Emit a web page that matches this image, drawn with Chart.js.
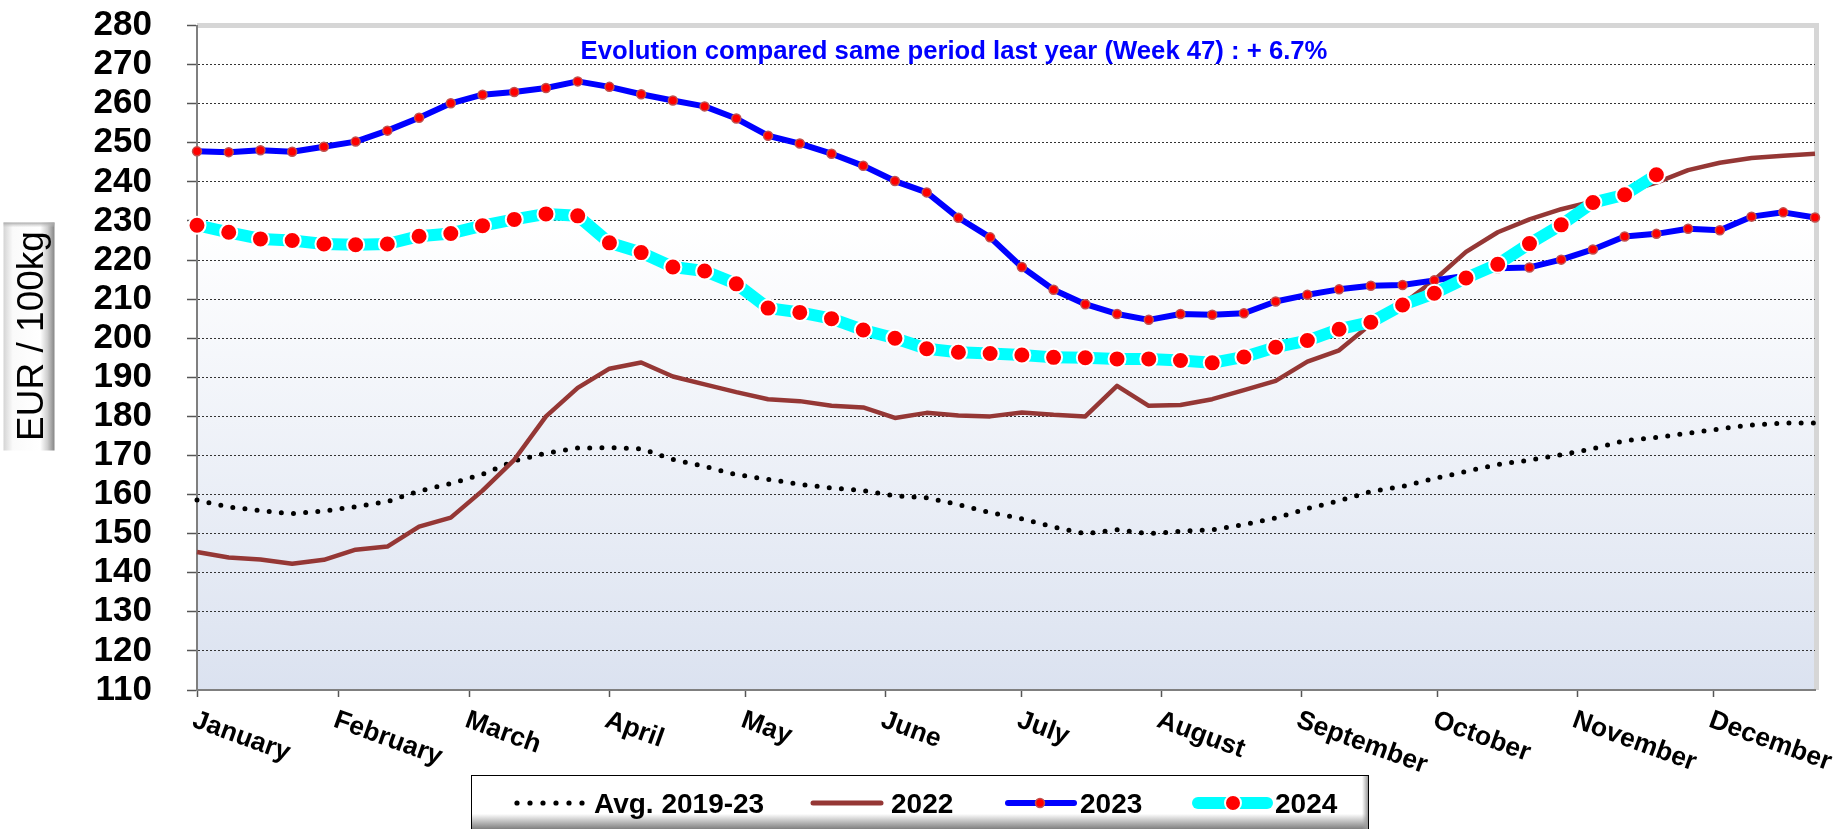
<!DOCTYPE html>
<html>
<head>
<meta charset="utf-8">
<script src="https://cdn.jsdelivr.net/npm/chart.js@4.4.1/dist/chart.umd.min.js"></script>
<style>
  html, body { margin: 0; padding: 0; background: #ffffff; }
  #wrap { width: 1846px; height: 829px; position: relative; }
</style>
</head>
<body>
<div id="wrap"><canvas id="c" width="1846" height="829"></canvas></div>
<script>
// ---------- DATA ----------
const weeks = Array.from({length: 52}, (_, i) => i + 1);
const monthLabels = ['January','February','March','April','May','June','July','August','September','October','November','December'];
const monthTickWeeks = [1, 5.45, 9.6, 14, 18.3, 22.7, 27, 31.4, 35.8, 40.1, 44.5, 48.8];
const yTickMin = 110;
const yTickMax = 280;
const yTickStep = 10;

const avg2019_23 = [158.6,156.8,155.9,155.1,155.8,156.9,158.2,160.9,162.8,165.2,168.6,170.6,171.9,
                    172.0,171.7,169.0,167.2,165.1,163.9,162.6,161.7,161.0,159.7,159.2,157.4,155.4,
                    153.8,151.7,150.0,151.0,150.0,150.6,151.0,152.3,154.0,156.4,158.4,160.8,162.1,
                    164.1,165.9,167.7,168.8,170.2,171.7,173.8,174.6,175.7,176.8,177.8,178.3,178.3];
const y2022 = [145.3,143.9,143.4,142.3,143.3,145.9,146.7,151.8,154.1,161.0,168.9,180.0,187.3,
               192.2,193.8,190.2,188.2,186.2,184.4,183.9,182.7,182.3,179.6,180.9,180.2,180.0,
               181.0,180.4,180.0,187.8,182.7,182.9,184.4,186.7,189.1,194.0,196.9,203.6,208.7,
               214.9,222.1,227.1,230.4,233.0,235.0,237.4,239.8,243.0,244.9,246.1,246.7,247.2];
const y2023 = [247.8,247.6,248.1,247.7,249.0,250.3,253.1,256.4,260.1,262.3,263.0,264.0,265.7,
               264.3,262.4,260.8,259.3,256.2,251.8,249.8,247.2,244.1,240.2,237.3,230.8,225.8,
               218.2,212.4,208.7,206.2,204.7,206.2,206.0,206.4,209.4,211.1,212.5,213.4,213.6,
               214.8,216.0,217.9,218.1,220.1,222.7,226.0,226.7,228.0,227.6,231.1,232.2,230.9];
const y2024 = [228.9,227.1,225.4,225.0,224.1,223.9,224.1,226.1,226.8,228.8,230.4,231.8,231.3,
               224.4,221.9,218.2,217.2,213.9,207.7,206.6,205.0,202.1,200.0,197.3,196.4,196.1,
               195.7,195.1,195.0,194.7,194.7,194.3,193.7,195.2,197.7,199.4,202.3,204.1,208.5,
               211.5,215.4,218.9,224.2,229.0,234.7,236.7,241.8];
const seriesNames = ['Avg. 2019-23', '2022', '2023', '2024'];
const titleText = 'Evolution compared same period last year (Week 47) : + 6.7%';
const yTitleText = 'EUR / 100kg';

// ---------- STYLE ----------
const FONT = "'Liberation Sans', Arial, Helvetica, sans-serif";

const bgPlugin = {
  id: 'bgPlugin',
  beforeDraw(chart) {
    const {ctx, chartArea: a} = chart;
    ctx.save();
    ctx.fillStyle = '#ffffff';
    ctx.fillRect(0, 0, chart.width, chart.height);
    const g = ctx.createLinearGradient(0, a.top, 0, a.bottom);
    g.addColorStop(0, '#ffffff');
    g.addColorStop(0.3, '#ffffff');
    g.addColorStop(1, '#dbe2f0');
    ctx.fillStyle = g;
    ctx.fillRect(a.left, a.top, a.right - a.left, a.bottom - a.top);
    // light grey frame (top & right)
    ctx.fillStyle = '#d6d6d6';
    ctx.fillRect(a.left, a.top - 2.5, a.right - a.left + 4, 5);
    ctx.fillRect(a.right - 1, a.top - 2.5, 5, a.bottom - a.top + 2.5);
    ctx.restore();
  }
};

const decoPlugin = {
  id: 'decoPlugin',
  afterDraw(chart) {
    const {ctx, chartArea: a} = chart;
    const xs = chart.scales.x;
    ctx.save();

    // Title
    ctx.fillStyle = '#0000ff';
    ctx.font = 'bold 25.7px ' + FONT;
    ctx.textAlign = 'center';
    ctx.textBaseline = 'alphabetic';
    ctx.fillText(titleText, 954, 59);

    // Y axis title box
    const bx = 3.5, by = 222.5, bw = 51, bh = 228;
    const hg = ctx.createLinearGradient(bx, 0, bx + bw, 0);
    hg.addColorStop(0, '#d4d4d4');
    hg.addColorStop(0.18, '#fafafa');
    hg.addColorStop(0.72, '#ffffff');
    hg.addColorStop(0.86, '#cfcfcf');
    hg.addColorStop(1, '#858585');
    ctx.fillStyle = hg;
    ctx.fillRect(bx, by, bw, bh);
    const tg = ctx.createLinearGradient(0, by, 0, by + 5);
    tg.addColorStop(0, '#a8a8a8');
    tg.addColorStop(1, 'rgba(200,200,200,0)');
    ctx.fillStyle = tg;
    ctx.fillRect(bx, by, bw, 5);
    ctx.save();
    ctx.translate(42.5, 336);
    ctx.rotate(-Math.PI / 2);
    ctx.fillStyle = '#000000';
    ctx.font = '37px ' + FONT;
    ctx.textAlign = 'center';
    ctx.textBaseline = 'alphabetic';
    ctx.fillText(yTitleText, 0, 0);
    ctx.restore();

    // X month labels (rotated clockwise)
    ctx.fillStyle = '#000000';
    ctx.font = 'bold 26.5px ' + FONT;
    ctx.textAlign = 'left';
    ctx.textBaseline = 'top';
    monthLabels.forEach((lab, i) => {
      const x = xs.getPixelForValue(monthTickWeeks[i]);
      ctx.save();
      ctx.translate(x + 1, a.bottom + 17);
      ctx.rotate(20 * Math.PI / 180);
      ctx.fillText(lab, 0, 0);
      ctx.restore();
    });

    // Legend box
    const lx = 471, ly = 775, lw = 897, lh = 60;
    const lg = ctx.createLinearGradient(0, ly, 0, 829);
    lg.addColorStop(0, '#ffffff');
    lg.addColorStop(0.72, '#ffffff');
    lg.addColorStop(1, '#808080');
    ctx.fillStyle = lg;
    ctx.fillRect(lx, ly, lw, lh);
    const rg = ctx.createLinearGradient(lx + lw - 6, 0, lx + lw, 0);
    rg.addColorStop(0, 'rgba(160,160,160,0)');
    rg.addColorStop(1, '#9a9a9a');
    ctx.fillStyle = rg;
    ctx.fillRect(lx + lw - 6, ly, 6, lh);
    ctx.strokeStyle = '#000000';
    ctx.lineWidth = 1;
    ctx.strokeRect(lx + 0.5, ly + 0.5, lw, lh);

    const ds = chart.data.datasets;
    const cy = 803;
    ctx.font = 'bold 28px ' + FONT;
    ctx.textBaseline = 'alphabetic';
    ctx.textAlign = 'left';
    ctx.fillStyle = '#000000';
    // Avg
    ctx.fillStyle = ds[0].borderColor;
    for (let k = 0; k < 6; k++) {
      ctx.beginPath();
      ctx.arc(517 + k * 13, cy, 2.6, 0, Math.PI * 2);
      ctx.fill();
    }
    ctx.fillStyle = '#000000';
    ctx.fillText(ds[0].label, 594, 813);
    // 2022
    ctx.strokeStyle = ds[1].borderColor;
    ctx.lineWidth = 5;
    ctx.lineCap = 'round';
    ctx.beginPath(); ctx.moveTo(813, cy); ctx.lineTo(881, cy); ctx.stroke();
    ctx.fillText(ds[1].label, 891, 813);
    // 2023
    ctx.strokeStyle = ds[2].borderColor;
    ctx.lineWidth = 6;
    ctx.lineCap = 'round';
    ctx.beginPath(); ctx.moveTo(1008, cy); ctx.lineTo(1074, cy); ctx.stroke();
    ctx.beginPath(); ctx.arc(1040, cy, 4.5, 0, Math.PI * 2);
    ctx.fillStyle = ds[2].pointBackgroundColor; ctx.fill();
    ctx.strokeStyle = ds[2].pointBorderColor; ctx.lineWidth = 1.5; ctx.stroke();
    ctx.fillStyle = '#000000';
    ctx.fillText(ds[2].label, 1080, 813);
    // 2024
    ctx.strokeStyle = ds[3].borderColor;
    ctx.lineWidth = 12;
    ctx.lineCap = 'round';
    ctx.beginPath(); ctx.moveTo(1198, cy); ctx.lineTo(1267, cy); ctx.stroke();
    ctx.beginPath(); ctx.arc(1233, cy, 8, 0, Math.PI * 2);
    ctx.fillStyle = ds[3].pointBackgroundColor; ctx.fill();
    ctx.strokeStyle = ds[3].pointBorderColor; ctx.lineWidth = 2; ctx.stroke();
    ctx.fillStyle = '#000000';
    ctx.fillText(ds[3].label, 1275, 813);

    ctx.restore();
  }
};

new Chart(document.getElementById('c'), {
  type: 'line',
  data: {
    labels: weeks,
    datasets: [
      {
        label: seriesNames[0], data: avg2019_23, order: 3, clip: false,
        borderColor: '#000000', borderWidth: 5, borderDash: [0, 12.2], borderCapStyle: 'round',
        pointRadius: 0, fill: false
      },
      {
        label: seriesNames[1], data: y2022, order: 2, clip: false,
        borderColor: '#953735', borderWidth: 4.5, borderJoinStyle: 'round',
        pointRadius: 0, fill: false
      },
      {
        label: seriesNames[2], data: y2023, order: 1, clip: false,
        borderColor: '#0000ff', borderWidth: 6, borderJoinStyle: 'round',
        pointRadius: 4.5, pointBackgroundColor: '#ff0000', pointBorderColor: '#c0504d', pointBorderWidth: 1.5,
        fill: false
      },
      {
        label: seriesNames[3], data: y2024, order: 0, clip: false,
        borderColor: '#00ffff', borderWidth: 12, borderJoinStyle: 'round',
        pointRadius: 8.5, pointBackgroundColor: '#ff0000', pointBorderColor: '#ffffff', pointBorderWidth: 2,
        fill: false
      }
    ]
  },
  options: {
    responsive: false,
    animation: false,
    devicePixelRatio: 1,
    layout: { padding: { left: 0, right: 31, top: 25.5, bottom: 0 } },
    plugins: { legend: { display: false }, tooltip: { enabled: false }, title: { display: false } },
    elements: { line: { tension: 0 }, point: { hoverRadius: 0 } },
    events: [],
    scales: {
      x: {
        type: 'linear', min: 1, max: 52,
        afterBuildTicks(s) { s.ticks = monthTickWeeks.map(v => ({ value: v })); },
        ticks: { display: false },
        grid: { drawOnChartArea: false, drawTicks: true, tickLength: 7, tickColor: '#555555', tickWidth: 1.5 },
        border: { display: true, color: '#7f7f7f', width: 2 },
        afterFit(s) { s.height = 139; s.paddingLeft = 0; s.paddingRight = 0; }
      },
      y: {
        min: yTickMin, max: yTickMax,
        ticks: {
          stepSize: yTickStep, autoSkip: false, color: '#000000', padding: 35,
          font: { family: FONT, size: 35, weight: 'bold' }
        },
        grid: {
          color: (c) => (c.tick && (c.tick.value === yTickMax || c.tick.value === yTickMin)) ? 'rgba(0,0,0,0)' : '#333333',
          lineWidth: 1, drawTicks: true, tickLength: 10, tickColor: '#555555', tickWidth: 1.5, tickBorderDash: []
        },
        border: { display: true, color: '#7f7f7f', width: 2, dash: [2, 2] },
        afterFit(s) { s.width = 197; s.paddingTop = 0; s.paddingBottom = 0; }
      }
    }
  },
  plugins: [bgPlugin, decoPlugin]
});
</script>
</body>
</html>
